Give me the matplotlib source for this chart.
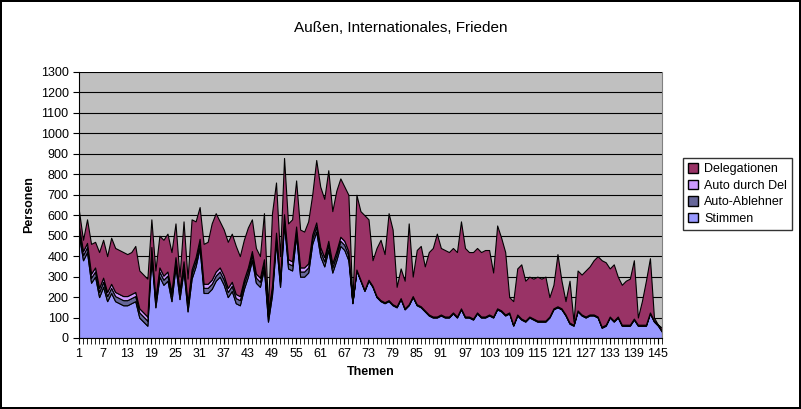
import numpy as np
import matplotlib.pyplot as plt
from matplotlib.patches import Patch

plt.rcParams["font.family"] = ["Liberation Sans", "DejaVu Sans"]

themen = np.arange(1, 147)
total = [620, 480, 580, 460, 470, 420, 480, 400, 490, 440, 430, 420, 410, 420, 450, 330, 310, 290, 580, 330,
         500, 480, 510, 420, 560, 300, 570, 290, 580, 570, 640, 460, 470, 560, 610, 570, 530, 470, 510, 450,
         400, 480, 540, 580, 440, 400, 610, 150, 610, 760, 400, 880, 560, 580, 770, 530, 520, 570, 700, 870,
         740, 680, 820, 620, 720, 780, 740, 700, 150, 700, 620, 600, 580, 380, 440, 480, 410, 610, 530, 250,
         340, 280, 560, 300, 430, 450, 350, 420, 440, 510, 440, 430, 420, 440, 420, 570, 440, 420, 420, 440,
         420, 430, 430, 320, 550, 490, 420, 200, 180, 340, 360, 280, 300, 290, 300, 290, 300, 200, 260, 410,
         280, 180, 280, 80, 330, 310, 330, 350, 380, 400, 380, 370, 340, 360, 300, 260, 280, 290, 380, 100,
         180, 280, 390, 100, 50, 50]
stimmen = [500, 380, 420, 270, 300, 200, 250, 180, 220, 180, 170, 160, 160, 170, 180, 100, 80, 60, 400, 150,
           300, 260, 280, 180, 350, 190, 330, 130, 290, 350, 440, 220, 220, 240, 280, 300, 260, 200, 230, 170,
           160, 240, 300, 380, 270, 250, 340, 80, 210, 470, 250, 560, 340, 330, 500, 300, 300, 320, 460, 520,
           400, 350, 430, 320, 380, 450, 430, 380, 170, 330, 280, 230, 280, 250, 200, 180, 170, 180, 160, 150,
           190, 140, 160, 200, 160, 150, 130, 110, 100, 100, 110, 100, 100, 120, 100, 140, 100, 100, 90, 120,
           100, 100, 110, 100, 140, 130, 110, 120, 60, 110, 90, 80, 100, 90, 80, 80, 80, 100, 140, 150,
           140, 110, 70, 60, 130, 110, 100, 110, 110, 100, 50, 60, 100, 80, 100, 60, 60, 60, 90, 60,
           60, 60, 120, 80, 60, 30]
# Auto-Ablehner und Auto durch Del: nur in der ersten Hälfte sichtbar
auto_abl = [25] * 68 + [3] * 78
auto_del = [20] * 68 + [2] * 78

total = np.array(total, float)
stimmen = np.array(stimmen, float)
auto_abl = np.array(auto_abl, float)
auto_del = np.array(auto_del, float)
deleg = np.clip(total - stimmen - auto_abl - auto_del, 0, None)

colors = ["#9999FF", "#666699", "#CC99FF", "#993366"]
names = ["Stimmen", "Auto-Ablehner", "Auto durch Del", "Delegationen"]

fig = plt.figure(figsize=(8.01, 4.09), dpi=100)
fig.patch.set_edgecolor("black")
fig.patch.set_linewidth(1.5)
ax = fig.add_axes([79 / 801, 1 - 338 / 409, (662 - 79) / 801, (338 - 72) / 409])
ax.set_facecolor("#C0C0C0")
ax.set_axisbelow(True)

ax.stackplot(themen, stimmen, auto_abl, auto_del, deleg, colors=colors,
             edgecolor="black", linewidth=0.8)

ax.set_xlim(1, 146)
ax.set_ylim(0, 1300)
ax.set_yticks(range(0, 1301, 100))
ax.yaxis.grid(True, color="black", linewidth=0.8)
ax.set_xticks(themen, minor=True)
ax.set_xticks(range(1, 147, 6))
ax.tick_params(axis="x", which="minor", length=4)
ax.tick_params(axis="both", which="major", length=4, labelsize=9)
ax.spines["top"].set_visible(False)
ax.spines["right"].set_color("#808080")

ax.set_xlabel("Themen", fontsize=9, fontweight="bold")
ax.set_ylabel("Personen", fontsize=9, fontweight="bold")
fig.text(0.5, 1 - 28 / 409, "Außen, Internationales, Frieden", ha="center", va="center", fontsize=11)

handles = [Patch(facecolor=c, edgecolor="black", label=n) for c, n in zip(colors, names)][::-1]
leg = fig.legend(handles=handles, loc="upper left", bbox_to_anchor=(683 / 801, 1 - 158 / 409),
                 fontsize=9, frameon=True, fancybox=False, edgecolor="black", borderpad=0.4,
                 handlelength=0.8, handleheight=0.8, handletextpad=0.5, labelspacing=0.35,
                 borderaxespad=0)
leg.get_frame().set_linewidth(1)

fig.savefig("out.png", dpi=100, edgecolor=fig.get_edgecolor())
